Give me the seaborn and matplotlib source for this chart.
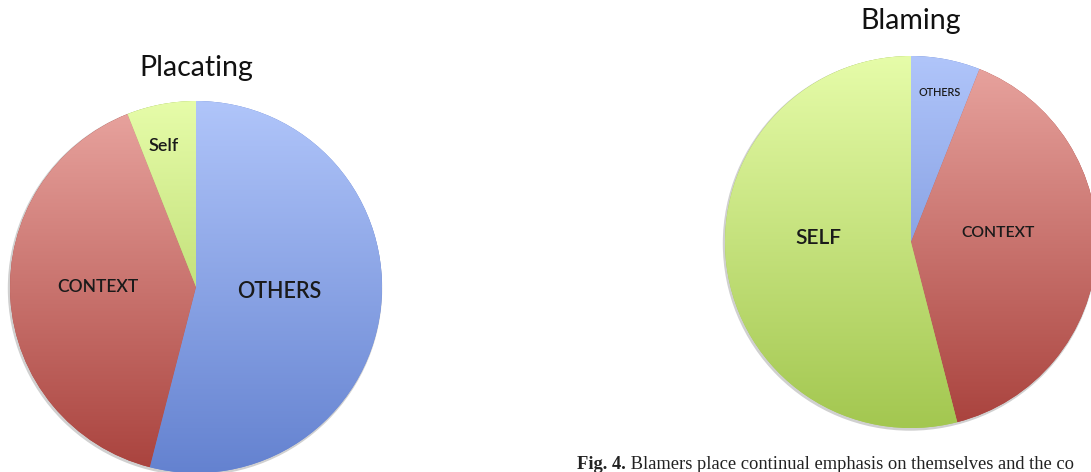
import numpy as np
import matplotlib
matplotlib.use("Agg")
import matplotlib.pyplot as plt
from matplotlib.colors import LinearSegmentedColormap, to_rgb
from matplotlib.patches import Circle
import seaborn as sns

sns.set_theme(style="white")
plt.rcParams['font.family'] = ['Lato', 'DejaVu Sans']

# ---- data ----
placating_labels = ["OTHERS", "CONTEXT", "Self"]
placating_values = [54, 40, 6]
blaming_labels = ["OTHERS", "CONTEXT", "SELF"]
blaming_values = [6, 40, 54]
caption_bold = "Fig. 4."
caption_rest = " Blamers place continual emphasis on themselves and the co"

# gradient colours per category (top, bottom)
grad = {
    "OTHERS": ("#b0c5fa", "#6482d0"),
    "CONTEXT": ("#e9a5a0", "#a9423d"),
    "SELF": ("#e6fca9", "#a3c750"),
}

W, H = 1091, 472
fig = plt.figure(figsize=(W / 100, H / 100), dpi=100)
ax = fig.add_axes([0, 0, 1, 1])


def draw_pie(values, labels, center, radius, label_specs, title, title_pos, title_size):
    cx, cy = center
    # faint shadow
    ax.add_patch(Circle((cx - 1.0, cy - 1.5), radius + 1.2, color="#d0d0d0", zorder=1, lw=0))
    wedges, _ = ax.pie(values, startangle=90, counterclock=False, center=center,
                       radius=radius, frame=True,
                       wedgeprops=dict(linewidth=0, zorder=2))
    grad_img = np.linspace(1, 0, 256).reshape(-1, 1)
    for w, lab in zip(wedges, labels):
        top, bot = grad[lab.upper()]
        cmap = LinearSegmentedColormap.from_list("g", [to_rgb(bot), to_rgb(top)])
        w.set_facecolor(to_rgb(bot))
        im = ax.imshow(grad_img, cmap=cmap, vmin=0, vmax=1, aspect="auto",
                       extent=(cx - radius, cx + radius, cy - radius, cy + radius),
                       origin="upper", zorder=3, interpolation="bilinear")
        im.set_clip_path(w)
    for lab, (r, ang, size) in zip(labels, label_specs):
        a = np.deg2rad(ang)
        ax.text(cx + r * radius * np.cos(a), cy + r * radius * np.sin(a), lab,
                ha="center", va="center", fontsize=size, color="#1a1a1a",
                fontweight="semibold", zorder=5)
    ax.text(title_pos[0], title_pos[1], title, ha="center", va="center",
            fontsize=title_size, color="#111111", zorder=5)


draw_pie(placating_values, placating_labels, (196, H - 287), 186,
         [(0.45, -3, 15.5), (0.53, 180, 12.5), (0.78, 103, 13)],
         "Placating", (196, H - 68), 20.5)

draw_pie(blaming_values, blaming_labels, (911, H - 242), 186,
         [(0.82, 79, 7.8), (0.47, 6, 11.3), (0.50, 177.5, 15)],
         "Blaming", (911, H - 21), 20.5)

ax.set_xlim(0, W)
ax.set_ylim(0, H)
ax.set_aspect("auto")
ax.axis("off")

serif = ["Liberation Serif", "DejaVu Serif"]
t1 = ax.text(577, H - 469, caption_bold, ha="left", va="baseline", fontsize=13.3,
             family=serif, fontweight="bold", color="#222222", zorder=5)
fig.canvas.draw()
bb = t1.get_window_extent(renderer=fig.canvas.get_renderer())
x_next = ax.transData.inverted().transform((bb.x1, bb.y0))[0]
ax.text(x_next, H - 469, caption_rest, ha="left", va="baseline", fontsize=13.3,
        family=serif, color="#222222", zorder=5)

fig.savefig("out.png", dpi=100, facecolor="white")
